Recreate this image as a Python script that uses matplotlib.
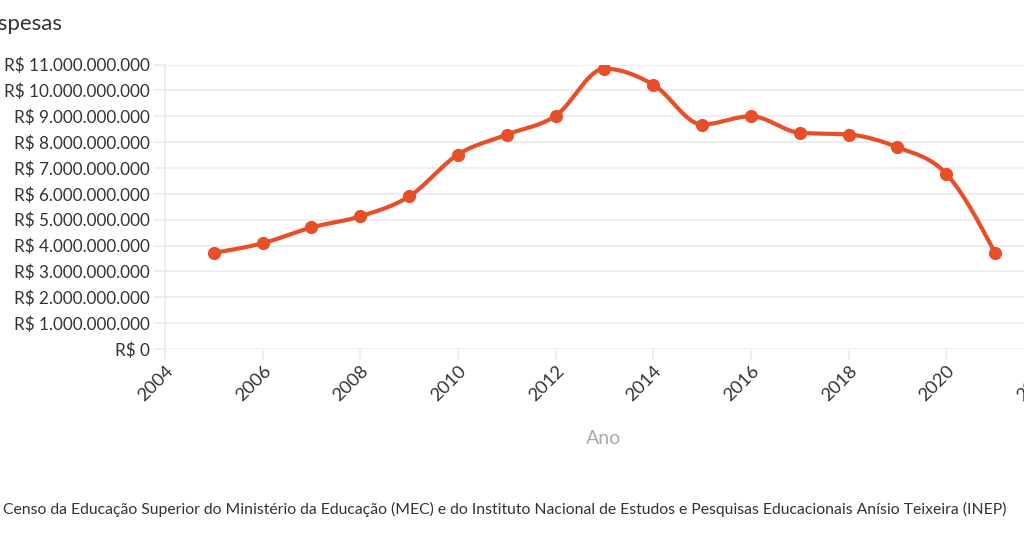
import numpy as np
import matplotlib
matplotlib.use("Agg")
import matplotlib.pyplot as plt
from matplotlib.ticker import FuncFormatter, MultipleLocator

plt.rcParams['font.family'] = ['Lato', 'DejaVu Sans']

anos = [2005, 2006, 2007, 2008, 2009, 2010, 2011, 2012, 2013,
        2014, 2015, 2016, 2017, 2018, 2019, 2020, 2021]
despesas = [3.72e9, 4.09e9, 4.70e9, 5.13e9, 5.90e9, 7.52e9, 8.29e9, 9.02e9, 10.84e9,
            10.22e9, 8.68e9, 9.00e9, 8.36e9, 8.29e9, 7.80e9, 6.77e9, 3.71e9]

titulo = "Despesas"
eixo_x = "Ano"
fonte = ("Censo da Educação Superior do Ministério da Educação (MEC) e do Instituto "
         "Nacional de Estudos e Pesquisas Educacionais Anísio Teixeira (INEP)")

COR = "#e84e27"
GRADE = "#ebebeb"
TEXTO = "#333333"


def monotone_x(x, y, n=30):
    # curva suave monotona (mesma ideia do d3.curveMonotoneX)
    x = np.asarray(x, float)
    y = np.asarray(y, float)
    h = np.diff(x)
    s = np.diff(y) / h
    t = np.zeros_like(y)
    for i in range(1, len(x) - 1):
        p = (s[i - 1] * h[i] + s[i] * h[i - 1]) / (h[i - 1] + h[i])
        t[i] = (np.sign(s[i - 1]) + np.sign(s[i])) * min(abs(s[i - 1]), abs(s[i]), 0.5 * abs(p))
    t[0] = (3 * s[0] - t[1]) / 2
    t[-1] = (3 * s[-1] - t[-2]) / 2
    xs, ys = [], []
    for i in range(len(x) - 1):
        u = np.linspace(0, 1, n, endpoint=(i == len(x) - 2))
        h00 = 2 * u**3 - 3 * u**2 + 1
        h10 = u**3 - 2 * u**2 + u
        h01 = -2 * u**3 + 3 * u**2
        h11 = u**3 - u**2
        xs.append(x[i] + u * h[i])
        ys.append(h00 * y[i] + h10 * h[i] * t[i] + h01 * y[i + 1] + h11 * h[i] * t[i + 1])
    return np.concatenate(xs), np.concatenate(ys)


def reais(v, pos):
    return "R$ " + f"{v:,.0f}".replace(",", ".")


fig = plt.figure(figsize=(10.24, 5.36), dpi=100)
ax = fig.add_axes([165 / 1024, 1 - 349 / 536, (1044 - 165) / 1024, (349 - 64.5) / 536])

cx, cy = monotone_x(anos, despesas)
ax.plot(cx, cy, color=COR, lw=3, solid_capstyle='round', zorder=3)
ax.plot(anos, despesas, 'o', color=COR, ms=8.5, zorder=4)

ax.set_xlim(2004, 2022)
ax.set_ylim(0, 11e9)
ax.xaxis.set_major_locator(MultipleLocator(2))
ax.yaxis.set_major_locator(MultipleLocator(1e9))
ax.yaxis.set_major_formatter(FuncFormatter(reais))
ax.grid(axis='y', color=GRADE, lw=1.2, zorder=0)
for lado in ['top', 'right', 'bottom']:
    ax.spines[lado].set_visible(False)
ax.spines['left'].set_color(GRADE)
ax.spines['left'].set_linewidth(1.2)
ax.tick_params(axis='y', length=8, width=1.2, color=GRADE, labelsize=12.3, labelcolor=TEXTO, pad=3)
ax.tick_params(axis='x', length=8, width=1.2, color=GRADE, labelsize=13.2, labelcolor=TEXTO, pad=2)
for lbl in ax.get_xticklabels():
    lbl.set_rotation(45)
    lbl.set_ha('right')
    lbl.set_va('top')
    lbl.set_rotation_mode('anchor')

fig.text(-31 / 1024, 1 - 24 / 536, titulo, fontsize=16, color=TEXTO, va='center', ha='left')
fig.text(604 / 1024, 1 - 438 / 536, eixo_x, fontsize=14, color="#aaaaaa", ha='center', va='center')
fig.text(3 / 1024, 1 - 509 / 536, fonte, fontsize=11.3, color=TEXTO, ha='left', va='center')

fig.savefig("out.png", dpi=100)
